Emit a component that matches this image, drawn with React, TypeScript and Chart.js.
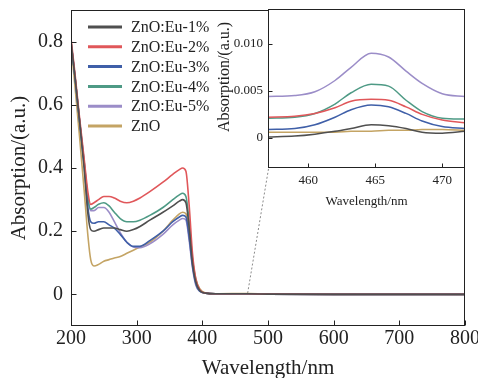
import React, { useEffect, useRef } from "react";
import { Chart, registerables } from "chart.js";

Chart.register(...registerables);

const FONT = "'Liberation Serif', 'Times New Roman', serif";

// ---------- main chart data ----------
const wavelength = [200, 206, 213, 220, 226, 230, 235, 242, 250, 258, 266, 275, 285, 295, 305, 320, 340, 355, 365, 370, 375, 380, 385, 390, 396, 405, 420, 470, 500, 600, 700, 800];
const eu1 = [0.80, 0.69, 0.55, 0.40, 0.25, 0.205, 0.20, 0.205, 0.21, 0.21, 0.21, 0.205, 0.20, 0.205, 0.215, 0.235, 0.26, 0.28, 0.295, 0.30, 0.29, 0.21, 0.10, 0.04, 0.012, 0.004, 0.002, 0.002, 0.001, 0.0, 0.0, 0.0];
const eu2 = [0.81, 0.70, 0.56, 0.43, 0.32, 0.285, 0.29, 0.30, 0.31, 0.31, 0.305, 0.295, 0.29, 0.295, 0.305, 0.325, 0.355, 0.38, 0.395, 0.40, 0.39, 0.28, 0.13, 0.05, 0.015, 0.004, 0.002, 0.002, 0.001, 0.0, 0.0, 0.0];
const eu3 = [0.80, 0.69, 0.55, 0.41, 0.27, 0.23, 0.225, 0.23, 0.23, 0.22, 0.21, 0.19, 0.165, 0.152, 0.152, 0.17, 0.20, 0.23, 0.245, 0.25, 0.245, 0.18, 0.09, 0.035, 0.01, 0.004, 0.002, 0.002, 0.001, 0.0, 0.0, 0.0];
const eu4 = [0.80, 0.69, 0.55, 0.42, 0.30, 0.27, 0.275, 0.285, 0.29, 0.28, 0.26, 0.24, 0.23, 0.23, 0.235, 0.25, 0.275, 0.30, 0.315, 0.32, 0.31, 0.23, 0.11, 0.045, 0.013, 0.004, 0.002, 0.002, 0.001, 0.0, 0.0, 0.0];
const eu5 = [0.80, 0.69, 0.55, 0.42, 0.30, 0.265, 0.265, 0.275, 0.275, 0.26, 0.23, 0.195, 0.165, 0.15, 0.148, 0.16, 0.19, 0.22, 0.235, 0.24, 0.235, 0.17, 0.085, 0.03, 0.01, 0.004, 0.002, 0.002, 0.001, 0.0, 0.0, 0.0];
const zno = [0.79, 0.66, 0.50, 0.33, 0.18, 0.11, 0.09, 0.095, 0.105, 0.11, 0.115, 0.12, 0.13, 0.14, 0.15, 0.165, 0.20, 0.235, 0.255, 0.26, 0.255, 0.20, 0.11, 0.05, 0.018, 0.005, 0.002, 0.003, 0.001, 0.002, 0.001, 0.0];

const xTicks = [200, 300, 400, 500, 600, 700, 800];
const yTicks = [0, 0.2, 0.4, 0.6, 0.8];

// zoom guide (from main-plot point to inset corner)
const guideX = [469, 501];
const guideY = [0.004, 0.40];

// ---------- inset data ----------
const insetWavelength = [457, 459, 460.5, 462, 463.2, 464.7, 466, 467.3, 468.5, 470, 471.7];
const inEu5 = [0.0044, 0.0045, 0.0049, 0.0061, 0.0075, 0.0090, 0.0086, 0.0071, 0.0058, 0.0047, 0.0044];
const inEu4 = [0.0021, 0.0022, 0.0026, 0.0036, 0.0048, 0.0057, 0.0055, 0.0040, 0.0028, 0.0021, 0.0020];
const inEu2 = [0.0022, 0.0023, 0.0026, 0.0032, 0.0039, 0.0041, 0.0040, 0.0033, 0.0025, 0.0019, 0.0016];
const inEu3 = [0.0009, 0.0010, 0.0014, 0.0022, 0.0030, 0.0035, 0.0033, 0.0026, 0.0018, 0.0012, 0.0010];
const inEu1 = [0.0001, 0.0002, 0.0004, 0.0007, 0.0010, 0.0014, 0.0013, 0.0010, 0.0006, 0.0005, 0.0007];
const inZno = [0.0006, 0.0006, 0.0006, 0.0006, 0.0007, 0.0007, 0.0008, 0.0008, 0.0009, 0.0009, 0.0008];

const insetXTicks = [460, 465, 470];
const insetYTicks = [0, 0.005, 0.01];

const labels = ["ZnO:Eu-1%", "ZnO:Eu-2%", "ZnO:Eu-3%", "ZnO:Eu-4%", "ZnO:Eu-5%", "ZnO"];
const colors = ["#4f4f4f", "#e0575a", "#3f5fa8", "#4e9a85", "#9b8dc8", "#c4a464"];

const pts = (xs: number[], ys: number[]) => xs.map((x, i) => ({ x, y: ys[i] }));

const framePlugin = (len: number, fillWhite: boolean) => ({
  id: "frame",
  beforeDraw(chart: any) {
    if (!fillWhite) return;
    const { ctx, chartArea: a } = chart;
    ctx.save();
    ctx.fillStyle = "#ffffff";
    ctx.fillRect(a.left, a.top, a.right - a.left, a.bottom - a.top);
    ctx.restore();
  },
  afterDatasetsDraw(chart: any) {
    const { ctx, chartArea: a, scales } = chart;
    ctx.save();
    ctx.strokeStyle = "#222";
    ctx.lineWidth = 1;
    const l = Math.round(a.left) + 0.5, r = Math.round(a.right) - 0.5;
    const t = Math.round(a.top) + 0.5, b = Math.round(a.bottom) - 0.5;
    ctx.strokeRect(l, t, r - l, b - t);
    ctx.beginPath();
    scales.x.ticks.forEach((tk: any) => {
      const px = Math.round(scales.x.getPixelForValue(tk.value)) + 0.5;
      ctx.moveTo(px, b);
      ctx.lineTo(px, b - len);
    });
    scales.y.ticks.forEach((tk: any) => {
      const py = Math.round(scales.y.getPixelForValue(tk.value)) + 0.5;
      ctx.moveTo(l, py);
      ctx.lineTo(l + len, py);
    });
    ctx.stroke();
    ctx.restore();
  },
});

const legendPlugin = {
  id: "customLegend",
  afterDatasetsDraw(chart: any) {
    const { ctx, chartArea: a } = chart;
    ctx.save();
    ctx.font = `16px ${FONT}`;
    ctx.textBaseline = "middle";
    ctx.textAlign = "left";
    labels.forEach((lab, i) => {
      const y = a.top + 17 + i * 19.8;
      ctx.strokeStyle = colors[i];
      ctx.lineWidth = 3;
      ctx.beginPath();
      ctx.moveTo(a.left + 17, y);
      ctx.lineTo(a.left + 51, y);
      ctx.stroke();
      ctx.fillStyle = "#222";
      ctx.fillText(lab, a.left + 60, y + 1);
    });
    ctx.restore();
  },
};

const insetTitlePlugin = {
  id: "insetYTitle",
  afterDraw(chart: any) {
    const { ctx, chartArea: a } = chart;
    ctx.save();
    ctx.font = `16px ${FONT}`;
    ctx.fillStyle = "#222";
    ctx.textAlign = "center";
    ctx.textBaseline = "middle";
    ctx.translate(20, a.top + 68);
    ctx.rotate(-Math.PI / 2);
    ctx.fillText("Absorption/(a.u.)", 0, 0);
    ctx.restore();
  },
};

export default function App() {
  const mainRef = useRef<HTMLCanvasElement>(null);
  const insetRef = useRef<HTMLCanvasElement>(null);

  useEffect(() => {
    const mainSeries = [eu1, eu2, eu3, eu4, eu5, zno];
    const main = new Chart(mainRef.current!, {
      type: "line",
      data: {
        datasets: [
          ...mainSeries.map((ys, i) => ({
            label: labels[i],
            data: pts(wavelength, ys),
            borderColor: colors[i],
            borderWidth: 1.6,
            pointRadius: 0,
            cubicInterpolationMode: "monotone" as const,
            fill: false,
          })),
          {
            label: "guide",
            data: pts(guideX, guideY),
            borderColor: "#8a8a8a",
            borderWidth: 1,
            borderDash: [2, 2],
            pointRadius: 0,
            fill: false,
          },
        ],
      },
      options: {
        animation: false,
        responsive: false,
        maintainAspectRatio: false,
        layout: { padding: { top: 10, right: 13, left: 0, bottom: 0 } },
        plugins: { legend: { display: false }, tooltip: { enabled: false } },
        scales: {
          x: {
            type: "linear",
            min: 200,
            max: 800,
            afterBuildTicks: (s: any) => { s.ticks = xTicks.map((v) => ({ value: v })); },
            afterFit: (s: any) => { s.height = 52; s.paddingLeft = 0; s.paddingRight = 0; },
            grid: { display: false, drawTicks: false },
            border: { display: false },
            ticks: { font: { family: FONT, size: 20 }, color: "#222", padding: 1, maxRotation: 0, autoSkip: false },
            title: { display: true, text: "Wavelength/nm", font: { family: FONT, size: 21 }, color: "#222", padding: { top: 0, bottom: -3 } },
          },
          y: {
            type: "linear",
            min: -0.1,
            max: 0.9,
            afterBuildTicks: (s: any) => { s.ticks = yTicks.map((v) => ({ value: v })); },
            afterFit: (s: any) => { s.width = 71; s.paddingTop = 0; s.paddingBottom = 0; },
            grid: { display: false, drawTicks: false },
            border: { display: false },
            ticks: {
              font: { family: FONT, size: 20 },
              color: "#222",
              padding: 8,
              callback: (v: any) => (v === 0 ? "0" : Number(v).toFixed(1)),
            },
            title: { display: true, text: "Absorption/(a.u.)", font: { family: FONT, size: 21 }, color: "#222", padding: { top: 7, bottom: 0 } },
          },
        },
      },
      plugins: [framePlugin(5, false), legendPlugin],
    } as any);

    const insetSeries = [inEu1, inEu2, inEu3, inEu4, inEu5, inZno];
    const inset = new Chart(insetRef.current!, {
      type: "line",
      data: {
        datasets: insetSeries.map((ys, i) => ({
          label: labels[i],
          data: pts(insetWavelength, ys),
          borderColor: colors[i],
          borderWidth: 1.5,
          pointRadius: 0,
          cubicInterpolationMode: "monotone" as const,
          fill: false,
        })),
      },
      options: {
        animation: false,
        responsive: false,
        maintainAspectRatio: false,
        layout: { padding: { top: 9, right: 13, left: 0, bottom: 0 } },
        plugins: { legend: { display: false }, tooltip: { enabled: false } },
        scales: {
          x: {
            type: "linear",
            min: 457,
            max: 471.7,
            afterBuildTicks: (s: any) => { s.ticks = insetXTicks.map((v) => ({ value: v })); },
            afterFit: (s: any) => { s.height = 47; s.paddingLeft = 0; s.paddingRight = 0; },
            grid: { display: false, drawTicks: false },
            border: { display: false },
            ticks: { font: { family: FONT, size: 13 }, color: "#222", padding: 5, maxRotation: 0, autoSkip: false },
            title: { display: true, text: "Wavelength/nm", font: { family: FONT, size: 13 }, color: "#222", padding: { top: 0, bottom: 6 } },
          },
          y: {
            type: "linear",
            min: -0.0032,
            max: 0.0137,
            afterBuildTicks: (s: any) => { s.ticks = insetYTicks.map((v) => ({ value: v })); },
            afterFit: (s: any) => { s.width = 63; s.paddingTop = 0; s.paddingBottom = 0; },
            grid: { display: false, drawTicks: false },
            border: { display: false },
            ticks: {
              font: { family: FONT, size: 13 },
              color: "#222",
              padding: 5,
              callback: (v: any) => (v === 0 ? "0" : Number(v).toFixed(3)),
            },
            title: { display: false },
          },
        },
      },
      plugins: [framePlugin(4, true), insetTitlePlugin],
    } as any);

    return () => {
      main.destroy();
      inset.destroy();
    };
  }, []);

  return (
    <div style={{ position: "fixed", left: 0, top: 0, width: 478, height: 378, background: "#fff" }}>
      <canvas ref={mainRef} width={478} height={378} style={{ position: "absolute", left: 0, top: 0, width: 478, height: 378 }} />
      <canvas ref={insetRef} width={273} height={215} style={{ position: "absolute", left: 205, top: 0, width: 273, height: 215 }} />
    </div>
  );
}
